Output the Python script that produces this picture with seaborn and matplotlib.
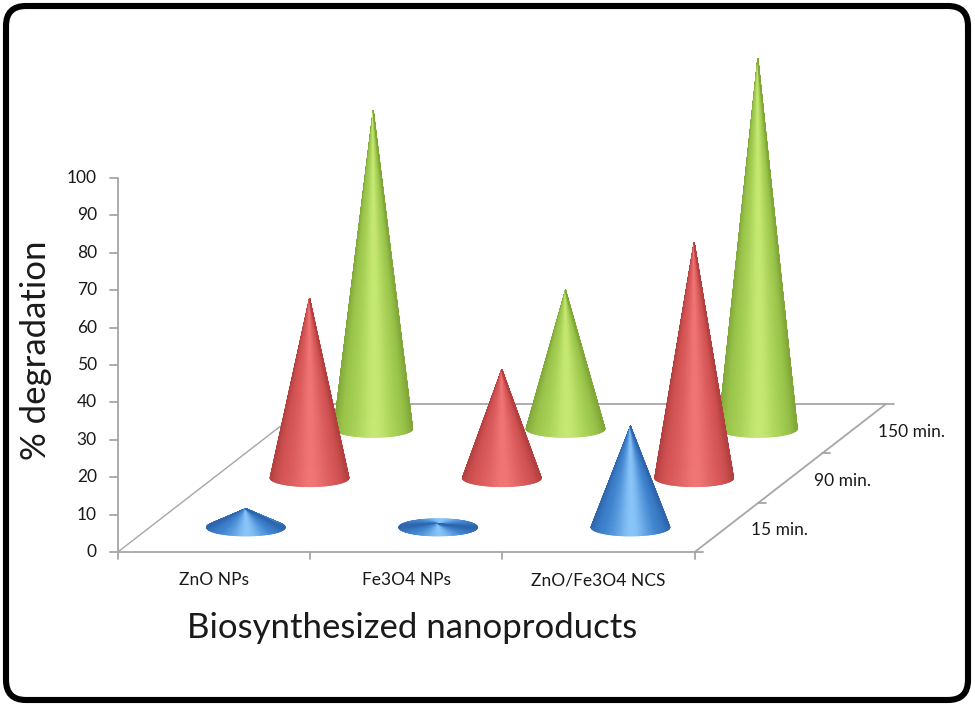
import numpy as np
import matplotlib
matplotlib.use("Agg")
import matplotlib.pyplot as plt
from matplotlib.collections import PolyCollection
from matplotlib.patches import FancyBboxPatch
from matplotlib.transforms import IdentityTransform
import seaborn as sns

# DATA
categories = ["ZnO NPs", "Fe3O4 NPs", "ZnO/Fe3O4 NCS"]
series_names = ["15 min.", "90 min.", "150 min."]
deg_15 = [5, 1, 27]
deg_90 = [48, 29, 63]
deg_150 = [85, 37, 99]
y_ticks = [0, 10, 20, 30, 40, 50, 60, 70, 80, 90, 100]

# cone shading: edge colour, body colour, highlight
cone_colors = {
    "15 min.": ["#2e65ac", "#3f84cf", "#88c4f8"],
    "90 min.": ["#b43f3f", "#d65656", "#f07474"],
    "150 min.": ["#80a738", "#9fca4e", "#c6e872"],
}

sns.set_theme(style="white")
plt.rcParams["font.family"] = ["Lato", "DejaVu Sans"]

W, H = 975, 707
PX_X = 192.3          # pixels per category step
PX_Y = 3.74           # pixels per % step
X0, Y0 = 214, 552     # pixel position of category 0 / value 0
DX = 63.7 / PX_X      # oblique depth shift per series row
DY = 49.3 / PX_Y
TXT = "#1a1a1a"


def shade(u):
    # u = horizontal position across the cone, -1 (left) .. 1 (right)
    body = 0.55 * (1 - abs(u) ** 5)
    glow = 0.45 * np.exp(-((u - 0.05) / 0.4) ** 2)
    return float(np.clip(body + glow, 0, 1))


def draw_cone(ax, xc, yb, h, colors, z, r=0.205, b=2.3, n=200):
    ramp = sns.blend_palette(colors, 101)
    th = np.linspace(0, 2 * np.pi, n + 1)
    ex = xc + r * np.cos(th)
    ey = yb + b * np.sin(th)
    polys, cols = [], []
    for i in range(n):
        polys.append([(xc, yb + h), (ex[i], ey[i]), (ex[i + 1], ey[i + 1])])
        u = np.cos(0.5 * (th[i] + th[i + 1]))
        cols.append(ramp[int(round(shade(u) * 100))])
    pc = PolyCollection(polys, facecolors=cols, edgecolors=cols,
                        linewidths=0.6, zorder=z)
    ax.add_collection(pc)


def main():
    fig = plt.figure(figsize=(W / 100, H / 100), dpi=100)
    ax = fig.add_axes([0, 0, 1, 1])
    ax.set_xlim(-X0 / PX_X, (W - X0) / PX_X)
    ax.set_ylim(-(H - Y0) / PX_Y, Y0 / PX_Y)
    ax.axis("off")

    grid = "#a6a6a6"
    depth = len(series_names)
    left, right = -0.5, len(categories) - 0.5
    # floor outline
    ax.plot([left, right], [0, 0], color=grid, lw=1.3, zorder=1)
    ax.plot([right, right + depth * DX], [0, depth * DY], color=grid, lw=1.3, zorder=1)
    ax.plot([left, left + depth * DX], [0, depth * DY], color=grid, lw=1.0, zorder=1)
    ax.plot([left + depth * DX, right + depth * DX], [depth * DY, depth * DY],
            color=grid, lw=1.3, zorder=1)
    # value axis
    ax.plot([left, left], [0, y_ticks[-1]], color=grid, lw=1.3, zorder=1)
    for v in y_ticks:
        ax.plot([left - 8 / PX_X, left], [v, v], color=grid, lw=1.3, zorder=1)
        ax.text(left - 21 / PX_X, v, str(v), ha="right", va="center",
                fontsize=12.5, color=TXT)
    # category axis ticks and labels
    for k in range(len(categories) + 1):
        ax.plot([left + k, left + k], [0, -7 / PX_Y], color=grid, lw=1.3, zorder=1)
    for i, cat in enumerate(categories):
        ax.text(i, -28 / PX_Y, cat, ha="center", va="center", fontsize=12.5,
                color=TXT)
    # depth axis ticks and labels
    for k in range(depth + 1):
        ax.plot([right + k * DX, right + k * DX + 8 / PX_X], [k * DY, k * DY],
                color=grid, lw=1.3, zorder=1)
    for k, name in enumerate(series_names):
        ax.text(right + (k + 0.5) * DX + 24 / PX_X, (k + 0.5) * DY - 3 / PX_Y,
                name, ha="left", va="center", fontsize=12.5, color=TXT)

    # cones, back row first
    rows = [deg_15, deg_90, deg_150]
    z = 2
    for k in reversed(range(depth)):
        for i, val in enumerate(rows[k]):
            draw_cone(ax, i + (k + 0.5) * DX, (k + 0.5) * DY, val,
                      cone_colors[series_names[k]], z)
            z += 1

    fig.text(36 / W, 1 - 350 / H, "% degradation", rotation=90, ha="center",
             va="center", fontsize=25, color=TXT)
    fig.text(412 / W, 1 - 628 / H, "Biosynthesized nanoproducts", ha="center",
             va="center", fontsize=25, color=TXT)

    frame = FancyBboxPatch((6, 7), 962, 694,
                           boxstyle="round,pad=0,rounding_size=20",
                           transform=IdentityTransform(), fill=False,
                           edgecolor="black", linewidth=4.4)
    fig.patches.append(frame)

    fig.savefig("out.png", dpi=100, facecolor="white")


if __name__ == "__main__":
    main()
